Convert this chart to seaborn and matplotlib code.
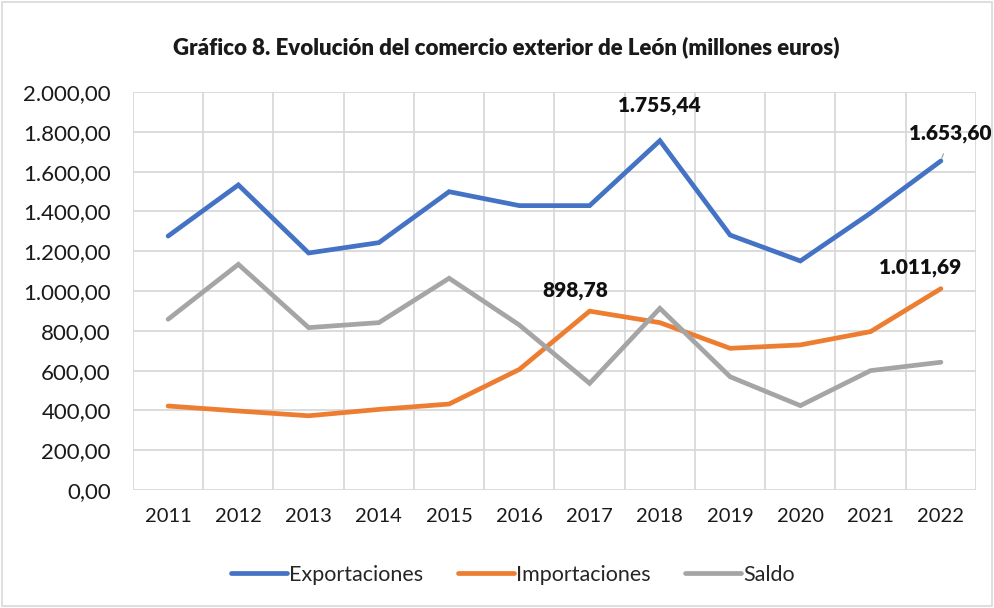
import pandas as pd
import matplotlib.pyplot as plt
import seaborn as sns
from matplotlib.patches import Rectangle

# Datos (millones de euros)
years = ['2011', '2012', '2013', '2014', '2015', '2016', '2017', '2018', '2019', '2020', '2021', '2022']
exportaciones = [1276, 1533, 1191, 1243, 1499, 1429, 1429, 1755.44, 1281, 1151, 1392, 1653.60]
importaciones = [422, 397, 373, 405, 432, 606, 898.78, 841, 712, 729, 796, 1011.69]
saldo = [858, 1134, 816, 841, 1064, 829, 536, 913, 569, 424, 600, 642]
series_names = ['Exportaciones', 'Importaciones', 'Saldo']
colors = ['#4472C4', '#ED7D31', '#A5A5A5']
y_ticks = [0, 200, 400, 600, 800, 1000, 1200, 1400, 1600, 1800, 2000]


def fmt_es(v):
    s = f'{v:,.2f}'
    return s.replace(',', 'X').replace('.', ',').replace('X', '.')


df = pd.DataFrame({
    'Año': years * 3,
    'Serie': [series_names[0]] * 12 + [series_names[1]] * 12 + [series_names[2]] * 12,
    'Valor': exportaciones + importaciones + saldo,
})
df['x'] = list(range(12)) * 3

sns.set_theme(style='white')
plt.rcParams['font.family'] = ['Lato', 'DejaVu Sans']

fig = plt.figure(figsize=(9.95, 6.08), dpi=100)
ax = fig.add_axes([133 / 995, 1 - 490 / 608, (976 - 133) / 995, (490 - 92) / 608])

sns.lineplot(data=df, x='x', y='Valor', hue='Serie', palette=colors,
             hue_order=series_names, linewidth=3.4, ax=ax, legend=True,
             solid_capstyle='round', solid_joinstyle='miter')

ax.set_xlim(-0.5, 11.5)
ax.set_ylim(0, 2000)
ax.set_xticks(range(12))
ax.set_xticklabels(years, fontsize=14.5, color='#1a1a1a')
ax.set_xticks([i - 0.5 for i in range(13)], minor=True)
ax.set_yticks(y_ticks)
ax.set_yticklabels([fmt_es(v) for v in y_ticks], fontsize=16, color='#1a1a1a')
ax.tick_params(axis='both', which='both', length=0)
ax.tick_params(axis='x', pad=13)
ax.tick_params(axis='y', pad=16)
ax.grid(True, axis='y', which='major', color='#d9d9d9', linewidth=1.3)
ax.grid(True, axis='x', which='minor', color='#d9d9d9', linewidth=1.3)
ax.grid(False, axis='x', which='major')
ax.set_axisbelow(True)
for sp in ax.spines.values():
    sp.set_visible(False)
ax.set_xlabel('')
ax.set_ylabel('')

# Etiquetas de datos
lab_kw = dict(fontsize=15, fontweight='heavy', color='#111111', ha='center', va='center')
ax.annotate(fmt_es(exportaciones[7]), (7, exportaciones[7]), xytext=(0, 25), textcoords='offset points', **lab_kw)
ax.annotate(fmt_es(importaciones[6]), (6, importaciones[6]), xytext=(-10, 15), textcoords='offset points', **lab_kw)
ax.annotate(fmt_es(importaciones[11]), (11, importaciones[11]), xytext=(-15, 15), textcoords='offset points', **lab_kw)
ax.annotate(fmt_es(exportaciones[11]), (11, exportaciones[11]), xytext=(7, 20), textcoords='offset points',
            arrowprops=dict(arrowstyle='-', color='#A5A5A5', lw=0.9, shrinkA=6, shrinkB=2), **lab_kw)

fig.suptitle('Gráfico 8. Evolución del comercio exterior de León (millones euros)',
             x=506 / 995, y=1 - 47 / 608, va='center', fontsize=16, fontweight='heavy', color='#1a1a1a')

leg = ax.get_legend()
leg.remove()
handles, labels = ax.get_legend_handles_labels()
fig.legend(handles, labels, loc='center', bbox_to_anchor=(513 / 995, 1 - 575 / 608), ncol=3,
           frameon=False, fontsize=15.5, handlelength=2.6, handletextpad=0.1, columnspacing=1.6)

fig.patches.append(Rectangle((0.002, 0.003), 0.995, 0.994, transform=fig.transFigure,
                             fill=False, edgecolor='#d9d9d9', linewidth=1.2))

fig.savefig('out.png', dpi=100)
